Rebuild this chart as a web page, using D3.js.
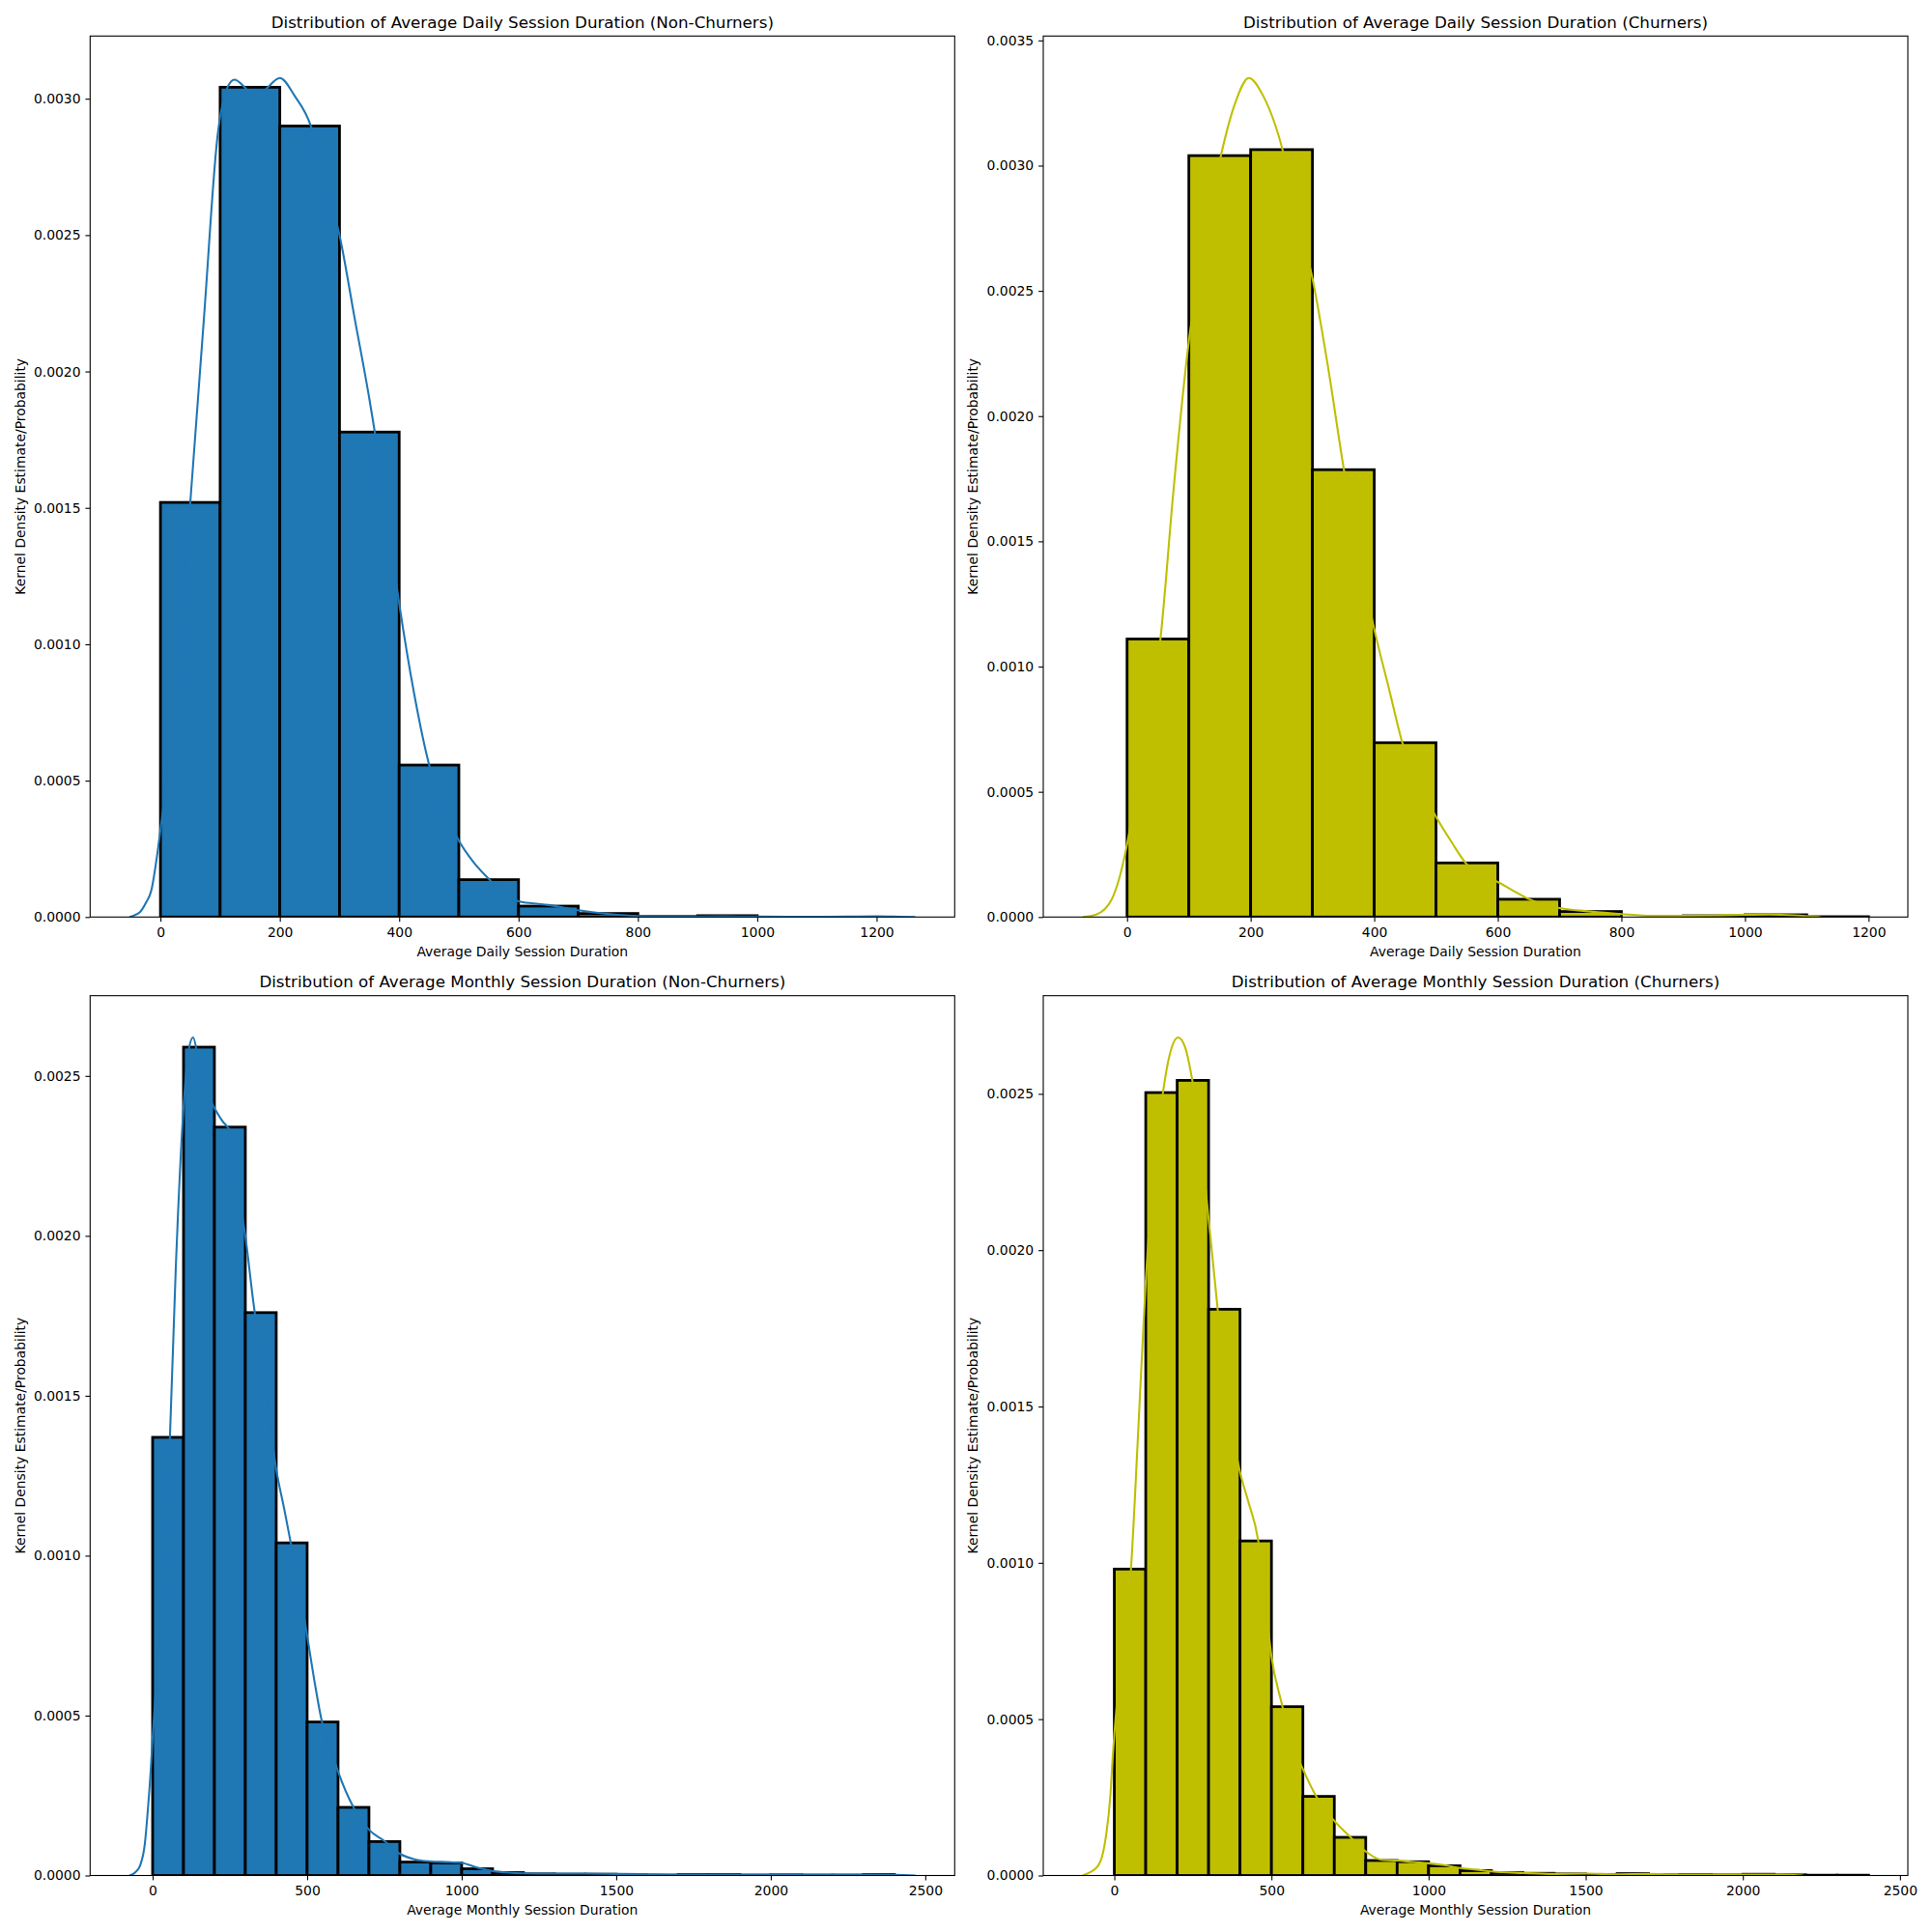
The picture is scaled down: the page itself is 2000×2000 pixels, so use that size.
<!DOCTYPE html>
<html lang="en">
  <head>
    <meta charset="utf-8" />
    <title>Session duration distributions</title>
    <script src="https://d3js.org/d3.v7.min.js"></script>
    <style type="text/css">
      body { margin: 0; background: #fff; }
      text { font-family: "DejaVu Sans", sans-serif; fill: #000; }
    </style>
  </head>
  <body>
    <script type="text/javascript">
      // Bin edges (bin width 100)
      const dailyEdgesNon = [0, 100, 200, 300, 400, 500, 600, 700, 800, 900, 1000];
      const dailyEdgesChurn = [0, 100, 200, 300, 400, 500, 600, 700, 800, 900, 1000, 1100, 1200];
      const monthlyEdges = [0, 100, 200, 300, 400, 500, 600, 700, 800, 900, 1000, 1100, 1200,
        1300, 1400, 1500, 1600, 1700, 1800, 1900, 2000, 2100, 2200, 2300, 2400];

      // Histogram densities
      const dailyNonHist = [0.00152, 0.003042, 0.0029, 0.001778, 0.000557, 0.000137, 0.00004,
        0.000013, 0.000002, 0.000005];
      const dailyChurnHist = [0.00111, 0.00304, 0.003064, 0.001786, 0.000696, 0.000216, 0.000071,
        0.000022, 0, 0.000005, 0.000009, 0.0000013];
      const monthlyNonHist = [0.00137, 0.00259, 0.00234, 0.00176, 0.00104, 0.00048, 0.000213,
        0.000106, 0.000042, 0.000039, 0.000021, 0.000009, 0.000005, 0.000004, 0.000004,
        0.000002, 0.000001, 0.000003, 0.000003, 0.000001, 0.000002, 0.000001, 0.000001, 0.000003];
      const monthlyChurnHist = [0.00098, 0.002504, 0.002543, 0.001811, 0.00107, 0.00054, 0.000253,
        0.000122, 0.000048, 0.000044, 0.000031, 0.0000155, 0.0000093, 0.000007, 0.000005,
        0.000003, 0.000006, 0.000002, 0.000003, 0.000002, 0.000004, 0.000002, 0.000001, 0.000001];

      // KDE curves (x, density)
      const dailyNonKdeX = [-52, -44, -34, -25, -15, -6, 0, 25, 50, 73, 96, 112, 124, 142, 160,
        179, 200, 225, 252, 275, 300, 325, 350, 375, 400, 425, 450, 475, 500, 525, 550, 575, 600,
        625, 650, 675, 700, 750, 800, 850, 900, 950, 1000, 1050, 1100, 1150, 1200, 1240, 1265];
      const dailyNonKdeY = [0, 0.000006, 0.000019, 0.00005, 0.0001, 0.00022, 0.00032, 0.0008,
        0.00152, 0.0022, 0.00287, 0.00304, 0.00307, 0.00304, 0.003, 0.00304, 0.003076, 0.00301,
        0.0029, 0.0027, 0.0025, 0.0022, 0.0019, 0.00155, 0.00115, 0.00082, 0.00056, 0.0004,
        0.00028, 0.0002, 0.00014, 0.000085, 0.000058, 0.00005, 0.000044, 0.000035, 0.000025,
        0.000012, 0.0000035, 0.0000015, 0.000002, 0.0000025, 0.0000015, 0.000001, 0.000001,
        0.0000015, 0.0000025, 0.000001, 0];

      const dailyChurnKdeX = [-72, -50, -25, 0, 25, 54, 75, 100, 125, 150, 175, 197, 220, 252, 275,
        300, 325, 350, 375, 400, 425, 445, 475, 500, 525, 550, 575, 600, 625, 650, 675, 700, 750,
        800, 850, 900, 950, 1000, 1040, 1080, 1122];
      const dailyChurnKdeY = [0, 0.00001, 0.00007, 0.00029, 0.0007, 0.00111, 0.0017, 0.0023,
        0.0027, 0.00302, 0.00325, 0.00335, 0.00328, 0.00306, 0.0028, 0.00255, 0.0022, 0.0018,
        0.00145, 0.00115, 0.0009, 0.0007, 0.00052, 0.0004, 0.0003, 0.00021, 0.00017, 0.00014,
        0.000105, 0.000072, 0.00005, 0.000036, 0.000022, 0.000012, 0.000005, 0.000005, 0.000006,
        0.000009, 0.00001, 0.000007, 0];

      const monthlyNonKdeX = [-75, -56, -41, -25, -15, -6, 0, 25, 56, 75, 100, 115, 131, 150, 175,
        200, 225, 254, 275, 300, 325, 350, 375, 400, 425, 449, 475, 500, 525, 548, 575, 600, 650,
        700, 750, 800, 850, 900, 950, 1000, 1050, 1100, 1150, 1200, 1300, 1400, 1500, 1600, 1700,
        1800, 1900, 2000, 2100, 2200, 2300, 2400, 2468];
      const monthlyNonKdeY = [0, 0.00001, 0.00003, 0.0001, 0.00021, 0.00033, 0.00043, 0.0008,
        0.00137, 0.0019, 0.0024, 0.00257, 0.00262, 0.00254, 0.00245, 0.0024, 0.00236, 0.00232,
        0.00215, 0.002, 0.0018, 0.00162, 0.00145, 0.00127, 0.00115, 0.00103, 0.0009, 0.00075,
        0.0006, 0.00048, 0.0004, 0.000325, 0.000213, 0.000143, 0.000108, 0.000068, 0.00005,
        0.000044, 0.000042, 0.000039, 0.000025, 0.000014, 0.000009, 0.000007, 0.000006, 0.000006,
        0.000005, 0.000004, 0.000003, 0.000003, 0.000003, 0.000003, 0.000003, 0.000003, 0.000003,
        0.000002, 0];

      const monthlyChurnKdeX = [-101, -80, -54, -39, -26, -13, -5, 0, 25, 53, 75, 100, 125, 150,
        175, 203, 225, 247, 275, 300, 325, 350, 375, 400, 425, 458, 480, 500, 535, 550, 575, 600,
        644, 700, 750, 800, 850, 900, 950, 1000, 1050, 1100, 1150, 1200, 1300, 1400, 1500, 1600,
        1700, 1800, 1900, 2000, 2100, 2191];
      const monthlyChurnKdeY = [0, 0.000009, 0.000028, 0.00006, 0.00013, 0.00025, 0.00038, 0.00045,
        0.00072, 0.00098, 0.0014, 0.0019, 0.00225, 0.00247, 0.00262, 0.00268, 0.00265, 0.00255,
        0.00235, 0.0021, 0.00185, 0.0016, 0.00142, 0.00129, 0.0012, 0.00107, 0.00088, 0.0007,
        0.00054, 0.00047, 0.0004, 0.00034, 0.00025, 0.000175, 0.000124, 0.000077, 0.00005,
        0.000048, 0.000043, 0.000039, 0.000033, 0.000024, 0.000019, 0.000013, 0.000008, 0.000005,
        0.000006, 0.000004, 0.000005, 0.000003, 0.000003, 0.000003, 0.000003, 0];

      // Tick labels
      const dailyTicks = [0, 200, 400, 600, 800, 1000, 1200];
      const monthlyTicks = [0, 500, 1000, 1500, 2000, 2500];
      const yTicks30 = [0, 0.0005, 0.001, 0.0015, 0.002, 0.0025, 0.003];
      const yTicks35 = [0, 0.0005, 0.001, 0.0015, 0.002, 0.0025, 0.003, 0.0035];
      const yTicks25 = [0, 0.0005, 0.001, 0.0015, 0.002, 0.0025];

      const titles = [
        "Distribution of Average Daily Session Duration (Non-Churners)",
        "Distribution of Average Daily Session Duration (Churners)",
        "Distribution of Average Monthly Session Duration (Non-Churners)",
        "Distribution of Average Monthly Session Duration (Churners)",
      ];
      const xLabels = ["Average Daily Session Duration", "Average Daily Session Duration",
        "Average Monthly Session Duration", "Average Monthly Session Duration"];
      const yLabel = "Kernel Density Estimate/Probability";

      const blue = "#1f77b4";
      const olive = "#bfbf00";

      //Width and height
      const w = 2000;
      const h = 2000;
      const colX = [93.3, 1080];
      const rowY = [37.3, 1030.7];
      const pw = 895;
      const ph = [912, 910.8];

      const panels = [
        { edges: dailyEdgesNon, hist: dailyNonHist, kx: dailyNonKdeX, ky: dailyNonKdeY,
          xt: dailyTicks, yt: yTicks30, color: blue, col: 0, row: 0 },
        { edges: dailyEdgesChurn, hist: dailyChurnHist, kx: dailyChurnKdeX, ky: dailyChurnKdeY,
          xt: dailyTicks, yt: yTicks35, color: olive, col: 1, row: 0 },
        { edges: monthlyEdges, hist: monthlyNonHist, kx: monthlyNonKdeX, ky: monthlyNonKdeY,
          xt: monthlyTicks, yt: yTicks25, color: blue, col: 0, row: 1 },
        { edges: monthlyEdges, hist: monthlyChurnHist, kx: monthlyChurnKdeX, ky: monthlyChurnKdeY,
          xt: monthlyTicks, yt: yTicks25, color: olive, col: 1, row: 1 },
      ];

      let svg = d3.select("body").append("svg").attr("width", w).attr("height", h);

      panels.forEach(function (p, i) {
        const left = colX[p.col];
        const top = rowY[p.row];
        const height = ph[p.row];

        // 5% margins like matplotlib
        const lo = Math.min(d3.min(p.kx), p.edges[0]);
        const hi = Math.max(d3.max(p.kx), p.edges[p.edges.length - 1]);
        const pad = (hi - lo) * 0.05;
        const yMax = Math.max(d3.max(p.ky), d3.max(p.hist)) * 1.05;

        let xScale = d3.scaleLinear().domain([lo - pad, hi + pad]).range([0, pw]);
        let yScale = d3.scaleLinear().domain([0, yMax]).range([height, 0]);

        let g = svg.append("g").attr("transform", "translate(" + left + "," + top + ")");

        g.append("clipPath").attr("id", "clip" + i)
          .append("rect").attr("width", pw).attr("height", height);

        let plot = g.append("g").attr("clip-path", "url(#clip" + i + ")");

        let bins = p.hist.map(function (v, k) {
          return { x0: p.edges[k], x1: p.edges[k + 1], value: v };
        });

        //Create bars
        plot.selectAll("rect.bar")
          .data(bins)
          .enter()
          .append("rect")
          .attr("class", "bar")
          .attr("x", function (d) { return xScale(d.x0); })
          .attr("y", function (d) { return yScale(d.value); })
          .attr("width", function (d) { return xScale(d.x1) - xScale(d.x0); })
          .attr("height", function (d) { return yScale(0) - yScale(d.value); })
          .attr("fill", p.color)
          .attr("stroke", "#000")
          .attr("stroke-width", 2.8);

        // KDE line
        const pts = p.kx.map(function (x, k) { return [x, p.ky[k]]; });
        const line = d3.line()
          .x(function (d) { return xScale(d[0]); })
          .y(function (d) { return yScale(d[1]); })
          .curve(d3.curveMonotoneX);

        plot.append("path")
          .datum(pts)
          .attr("d", line)
          .attr("fill", "none")
          .attr("stroke", p.color)
          .attr("stroke-width", 2.08);

        // Axes
        let xAxis = g.append("g")
          .attr("transform", "translate(0," + height + ")")
          .call(d3.axisBottom(xScale).tickValues(p.xt).tickSize(4.9).tickPadding(6.2)
            .tickFormat(d3.format("d")));
        let yAxis = g.append("g")
          .call(d3.axisLeft(yScale).tickValues(p.yt).tickSize(4.9).tickPadding(4.9)
            .tickFormat(d3.format(".4f")));

        [xAxis, yAxis].forEach(function (a) {
          a.select(".domain").remove();
          a.attr("font-family", "DejaVu Sans").attr("font-size", 13.9);
          a.selectAll(".tick line").attr("stroke", "#000").attr("stroke-width", 1.1);
          a.selectAll(".tick text").attr("fill", "#000");
        });

        // Spines
        g.append("rect")
          .attr("width", pw)
          .attr("height", height)
          .attr("fill", "none")
          .attr("stroke", "#000")
          .attr("stroke-width", 1.1);

        // Title and labels
        g.append("text")
          .attr("x", pw / 2)
          .attr("y", -8.3)
          .attr("text-anchor", "middle")
          .attr("font-size", 16.7)
          .text(titles[i]);

        g.append("text")
          .attr("x", pw / 2)
          .attr("y", height + 40.5)
          .attr("text-anchor", "middle")
          .attr("font-size", 13.9)
          .text(xLabels[i]);

        g.append("text")
          .attr("transform", "translate(-72.6," + height / 2 + ") rotate(-90)")
          .attr("dy", "0.35em")
          .attr("text-anchor", "middle")
          .attr("font-size", 13.9)
          .text(yLabel);
      });
    </script>
  </body>
</html>
